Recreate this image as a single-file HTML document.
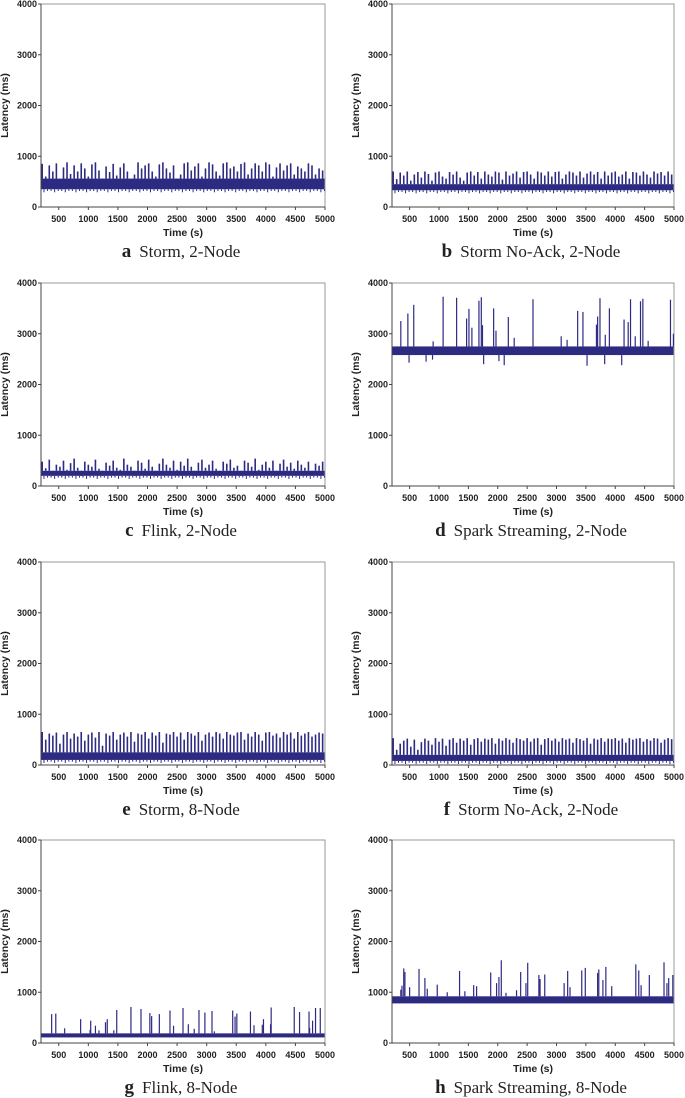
<!DOCTYPE html>
<html><head><meta charset="utf-8"><style>
html,body{margin:0;padding:0;background:#fff;}
svg{display:block;}
.tk{font-family:"Liberation Sans",sans-serif;font-size:9px;font-weight:bold;fill:#222;}
.at{font-family:"Liberation Sans",sans-serif;font-size:10.5px;font-weight:bold;fill:#222;}
.cap{font-family:"Liberation Serif",serif;font-size:17px;fill:#222;}
</style></head><body>
<svg id="fig" width="685" height="1098" viewBox="0 0 685 1098" xmlns="http://www.w3.org/2000/svg"></svg>
<script>
const xTicks=[500,1000,1500,2000,2500,3000,3500,4000,4500,5000];
const yTicks=[0,1000,2000,3000,4000];
const denseStart=220, denseStep=60;
const aBand=[350,560], aVals=[850,600,820,700,860,540,780,880,650,820,700,860,760,600,840,880,720,560,800,690,850,620,780,860,700,520,640,880,760,820,860,700,600,840,880,760,680,820,560,640,860,880,720,800,860,600,760,880,840,700,620,860,880,760,800,700,850,880,640,760,860,820,700,880,840,600,780,860,720,820,860,640,800,760,700,860,820,640,760,720];
const bBand=[330,450], bVals=[700,550,680,620,700,520,640,690,580,700,650,520,680,700,600,560,690,640,700,580,520,680,700,620,690,560,700,640,600,700,680,540,700,620,660,700,580,690,700,640,560,700,680,620,700,600,690,700,560,640,700,680,620,700,580,660,700,640,690,560,700,620,680,700,600,640,700,560,690,680,620,700,640,580,700,660,690,620,700,640];
const cBand=[200,300], cVals=[480,350,520,300,420,380,500,320,450,540,360,300,480,420,380,520,340,300,460,400,500,360,320,540,420,380,300,500,460,340,520,380,300,440,540,420,360,500,320,480,400,540,380,300,460,520,360,420,500,340,300,480,440,520,360,400,300,500,460,380,540,320,420,480,360,500,300,440,520,380,460,340,500,420,360,480,300,440,400,480];
const eBand=[100,250], eVals=[650,500,620,580,640,420,600,650,520,620,560,650,480,600,640,540,650,380,620,580,650,500,600,640,560,650,460,620,600,650,520,640,580,650,440,620,600,650,560,640,500,650,620,580,650,480,600,640,560,650,620,520,650,600,580,640,650,500,620,560,650,600,480,640,650,580,620,540,650,600,640,520,650,580,620,650,560,600,640,620];
const fBand=[80,200], fVals=[530,300,420,480,520,360,500,300,450,520,480,400,530,460,520,380,500,530,440,520,480,530,400,510,530,460,520,500,530,420,520,480,530,500,440,530,510,480,530,460,520,530,400,510,530,480,520,460,530,500,520,440,530,510,480,530,420,520,500,530,460,520,510,530,480,520,440,530,500,520,530,460,510,480,530,520,440,500,530,510];
const dBand=[2580,2750];
const dTimes=[350,470,570,900,1070,1300,1470,1510,1560,1680,1720,1740,1930,1970,2180,2280,2600,3080,3180,3360,3450,3680,3700,3740,3830,3900,4150,4220,4260,4340,4430,4470,4560,4940,4990,490,780,890,1760,2020,2110,3520,3820,4110];
const dVals=[3250,3400,3570,2850,3730,3710,3300,3490,3120,3650,3720,3170,3500,3060,3330,2920,3680,2950,2880,3450,3430,3180,3340,3700,2980,3500,3280,3230,3680,2950,3640,3690,2860,3670,3000,2430,2450,2490,2400,2460,2380,2370,2400,2380];
const gBand=[110,190];
const gTimes=[380,450,600,870,1030,1040,1120,1180,1290,1320,1430,1480,1720,1890,2040,2070,2200,2380,2440,2600,2690,2790,2870,2970,3090,3130,3440,3480,3510,3740,3800,3940,3960,4080,4090,4480,4570,4730,4740,4790,4840,4920];
const gVals=[570,580,290,470,260,440,340,250,410,470,250,650,710,670,590,530,570,640,340,690,370,280,650,600,630,230,640,520,580,620,350,360,470,370,700,710,610,620,300,440,690,690];
const hBand=[780,920];
const hTimes=[350,370,400,420,500,660,760,800,970,1140,1350,1440,1590,1640,1880,1980,2020,2060,2140,2320,2390,2480,2510,2700,2720,2800,3130,3190,3230,3430,3490,3700,3720,3790,3840,3940,4350,4400,4440,4580,4830,4880,4910,4980];
const hVals=[1050,1130,1470,1400,1100,1460,1280,1070,1150,1000,1420,1020,1140,1120,1390,1180,1300,1630,990,1040,1400,1180,1580,1340,1260,1350,1180,1420,1100,1430,1480,1380,1450,1240,1500,1120,1550,1430,1140,1340,1590,1180,1280,1340];

const NS='http://www.w3.org/2000/svg';
const svg=document.getElementById('fig');
const COL='#2d2a82';
function mk(tag,attrs,parent){const e=document.createElementNS(NS,tag);for(const k in attrs)e.setAttribute(k,attrs[k]);parent.appendChild(e);return e;}
const panels=[
 {id:'a',cap:'Storm, 2-Node',col:0,row:0,band:aBand,vals:aVals},
 {id:'b',cap:'Storm No-Ack, 2-Node',col:1,row:0,band:bBand,vals:bVals},
 {id:'c',cap:'Flink, 2-Node',col:0,row:1,band:cBand,vals:cVals},
 {id:'d',cap:'Spark Streaming, 2-Node',col:1,row:1,band:dBand,times:dTimes,vals:dVals},
 {id:'e',cap:'Storm, 8-Node',col:0,row:2,band:eBand,vals:eVals},
 {id:'f',cap:'Storm No-Ack, 2-Node',col:1,row:2,band:fBand,vals:fVals},
 {id:'g',cap:'Flink, 8-Node',col:0,row:3,band:gBand,times:gTimes,vals:gVals},
 {id:'h',cap:'Spark Streaming, 8-Node',col:1,row:3,band:hBand,times:hTimes,vals:hVals}
];
const lefts=[41,392], rights=[325,674], tops=[4,283,562,840], H=203;
panels.forEach(p=>{
 const L=lefts[p.col],R=rights[p.col],T=tops[p.row],B=T+H;
 const xs=v=>L+(v-200)/(4800)*(R-L);
 const ys=v=>B-v/4000*(B-T);
 const g=mk('g',{},svg);
 
 
 const fr=mk('rect',{x:L,y:T,width:R-L,height:H,fill:'none',stroke:'#999','stroke-width':1},g);
 
 
 mk('line',{x1:L,y1:T,x2:L,y2:B,stroke:'#444'},g);
 mk('line',{x1:L,y1:B,x2:R,y2:B,stroke:'#444'},g);
 const band=mk('rect',{x:L+0.5,y:ys(p.band[1]),width:R-L-1,height:ys(p.band[0])-ys(p.band[1]),fill:COL},g);
 
 
 p.vals.forEach((v,i)=>{
  const t=p.times?p.times[i]:denseStart+i*denseStep;
  const x=xs(t);
  const base=v>p.band[1]?p.band[1]:p.band[0];
  const ln=mk('line',{x1:x,x2:x,y1:ys(base),y2:ys(v),stroke:COL,'stroke-width':p.times?1.2:1.6},g);
  
  
  if(!p.times){
   const dp=mk('line',{x1:x+1.8,x2:x+1.8,y1:ys(p.band[0]),y2:ys(p.band[0]-(i%3===0?60:35)),stroke:COL,'stroke-width':1},g);
   
   
  }
 });
 yTicks.forEach(v=>{
  mk('line',{x1:L-3,x2:L,y1:ys(v),y2:ys(v),stroke:'#444'},g);
  const t=mk('text',{x:L-4,y:ys(v)+3,'text-anchor':'end',class:'tk'},g);t.textContent=v;
  
  
 });
 xTicks.forEach(v=>{
  mk('line',{x1:xs(v),x2:xs(v),y1:B,y2:B+3,stroke:'#444'},g);
  const t=mk('text',{x:xs(v),y:B+15,'text-anchor':'middle',class:'tk'},g);t.textContent=v;
  
  
 });
 const xt=mk('text',{x:(L+R)/2,y:B+29,'text-anchor':'middle',class:'at'},g);xt.textContent='Time (s)';
 
 
 const yx=L-33,yy=(T+B)/2;
 const yt=mk('text',{x:yx,y:yy,'text-anchor':'middle',class:'at',transform:`rotate(-90 ${yx} ${yy})`},g);yt.textContent='Latency (ms)';
 
 
 const cp=mk('text',{x:(L+R)/2-2,y:B+50,'text-anchor':'middle',class:'cap'},g);
 const b=mk('tspan',{'font-weight':'bold','font-size':'19px'},cp);b.textContent=p.id;
 const s=mk('tspan',{dx:8},cp);s.textContent=p.cap;
 
 
});
</script>
</body></html>
